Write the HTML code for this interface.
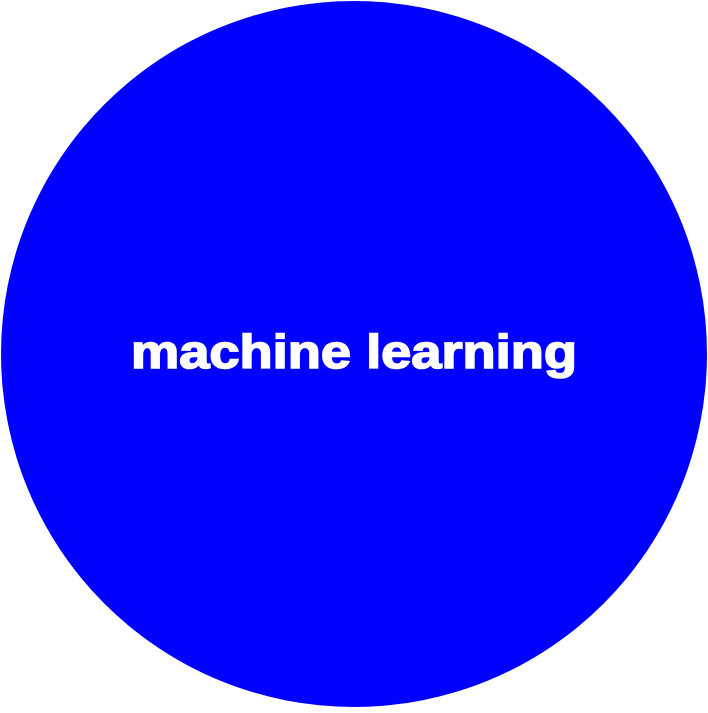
<!DOCTYPE html>
<html><head><style>html,body{margin:0;padding:0;background:#fff;}</style></head>
<body>
<svg width="708" height="708" viewBox="0 0 708 708" xmlns="http://www.w3.org/2000/svg">
<circle cx="354" cy="354" r="353" fill="#0000ff"/>
<text x="131" y="368" textLength="446" lengthAdjust="spacingAndGlyphs" font-family="Liberation Sans, Arial, sans-serif" font-weight="bold" font-size="47" fill="#fff" stroke="#fff" stroke-width="1.6">machine learning</text>
</svg>
</body></html>
